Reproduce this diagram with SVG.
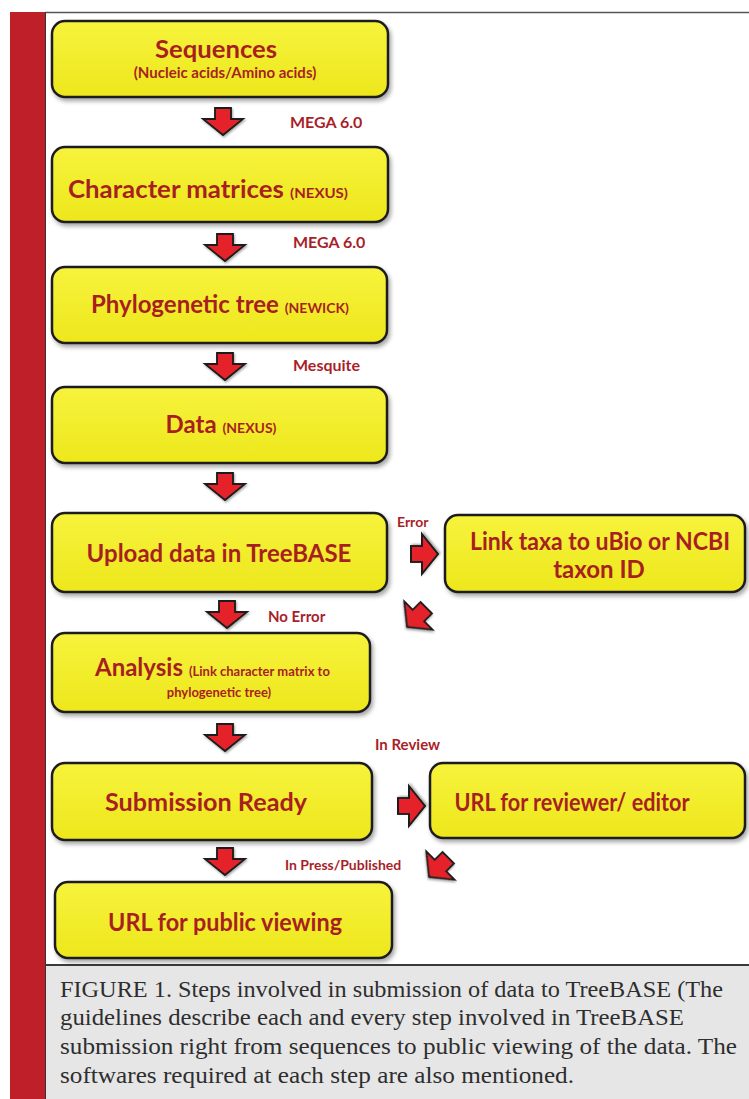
<svg xmlns="http://www.w3.org/2000/svg" width="749" height="1099" viewBox="0 0 749 1099">
<style>
.box{fill:url(#yg);stroke:#1e1e1e;stroke-width:2.5;filter:url(#sh)}
.arr{fill:#e5222b;stroke:#1a1a1a;stroke-width:1.8;stroke-linejoin:miter;filter:url(#sh2)}
.t{font-family:Lato,"Open Sans",sans-serif;font-weight:bold;fill:#a81f22;text-anchor:middle}
.big{font-size:24px}
.sm{font-size:14px}
.lab{font-family:Lato,"Open Sans",sans-serif;font-weight:bold;fill:#a81f2a}
.cap{font-family:"Liberation Serif",serif;font-size:23px;fill:#2e2e2e}
</style>
<defs>
<linearGradient id="yg" x1="0" y1="0" x2="0" y2="1">
<stop offset="0" stop-color="#f7f33c"/>
<stop offset="1" stop-color="#ede71c"/>
</linearGradient>
<filter id="sh" x="-5%" y="-10%" width="115%" height="130%">
<feDropShadow dx="2" dy="3" stdDeviation="2" flood-color="#000" flood-opacity="0.35"/>
</filter>
<filter id="sh2" x="-20%" y="-20%" width="150%" height="150%">
<feDropShadow dx="1" dy="1.5" stdDeviation="1" flood-color="#000" flood-opacity="0.35"/>
</filter>
<path id="ar" d="M-8,-13 H8 V-2 H20 L0,14 L-20,-2 H-8 Z"/>
</defs>

<rect x="0" y="0" width="749" height="1099" fill="#fff"/>
<rect x="10" y="12" width="35" height="1087" fill="#bf1f28"/>
<rect x="45" y="965" width="704" height="134" fill="#e6e6e7"/>
<line x1="45" y1="12.5" x2="749" y2="12.5" stroke="#555" stroke-width="1.5"/>
<line x1="45.5" y1="12" x2="45.5" y2="1099" stroke="#333" stroke-width="1"/>
<line x1="45" y1="965" x2="749" y2="965" stroke="#3a3a3a" stroke-width="2"/>

<g id="connectors">
<use href="#ar" class="arr" transform="translate(223,121)"/>
<use href="#ar" class="arr" transform="translate(225,247)"/>
<use href="#ar" class="arr" transform="translate(225,366)"/>
<use href="#ar" class="arr" transform="translate(225,486)"/>
<use href="#ar" class="arr" transform="translate(227,614)"/>
<use href="#ar" class="arr" transform="translate(225,737)"/>
<use href="#ar" class="arr" transform="translate(225,861)"/>
<use href="#ar" class="arr" transform="translate(424,554) rotate(-90)"/>
<use href="#ar" class="arr" transform="translate(417,617) rotate(45)"/>
<use href="#ar" class="arr" transform="translate(411,806) rotate(-90)"/>
<use href="#ar" class="arr" transform="translate(439,867) rotate(45)"/>
<text class="lab" x="290" y="128" font-size="16">MEGA 6.0</text>
<text class="lab" x="293" y="248" font-size="16">MEGA 6.0</text>
<text class="lab" x="293" y="371" font-size="16">Mesquite</text>
<text class="lab" x="397" y="527" font-size="14">Error</text>
<text class="lab" x="268" y="622" font-size="15">No Error</text>
<text class="lab" x="375" y="750" font-size="15">In Review</text>
<text class="lab" x="285" y="870" font-size="14">In Press/Published</text>
</g>

<g id="n1">
<rect class="box" x="52" y="21" width="336" height="76" rx="13"/>
<text class="t big" x="216" y="58" textLength="122" lengthAdjust="spacingAndGlyphs">Sequences</text>
<text class="t" x="225" y="78" font-size="15">(Nucleic acids/Amino acids)</text>
</g>
<g id="n2">
<rect class="box" x="52" y="147" width="336" height="75" rx="13"/>
<text class="t big" x="208" y="198" textLength="280" lengthAdjust="spacingAndGlyphs">Character matrices <tspan class="sm">(NEXUS)</tspan></text>
</g>
<g id="n3">
<rect class="box" x="52" y="267" width="335" height="76" rx="13"/>
<text class="t big" x="220" y="313">Phylogenetic tree <tspan class="sm">(NEWICK)</tspan></text>
</g>
<g id="n4">
<rect class="box" x="52" y="387" width="335" height="76" rx="13"/>
<text class="t big" x="221" y="433">Data <tspan class="sm">(NEXUS)</tspan></text>
</g>
<g id="n5">
<rect class="box" x="52" y="513" width="335" height="79" rx="13"/>
<text class="t big" x="219" y="562">Upload data in TreeBASE</text>
</g>
<g id="n6">
<rect class="box" x="52" y="633" width="318" height="79" rx="13"/>
<text class="t" x="95" y="676" style="text-anchor:start"><tspan class="big">Analysis</tspan><tspan font-size="13" dx="6">(Link character matrix to</tspan></text>
<text class="t" x="219" y="697" font-size="13">phylogenetic tree)</text>
</g>
<g id="n7">
<rect class="box" x="52" y="763" width="320" height="77" rx="13"/>
<text class="t big" x="206" y="811" textLength="202" lengthAdjust="spacingAndGlyphs">Submission Ready</text>
</g>
<g id="n8">
<rect class="box" x="55" y="882" width="337" height="76" rx="13"/>
<text class="t big" x="225" y="931" textLength="234" lengthAdjust="spacingAndGlyphs">URL for public viewing</text>
</g>
<g id="n9">
<rect class="box" x="445" y="515" width="300" height="77" rx="13"/>
<text class="t big" x="600" y="550" textLength="260" lengthAdjust="spacingAndGlyphs">Link taxa to uBio or NCBI</text>
<text class="t big" x="599" y="578">taxon ID</text>
</g>
<g id="n10">
<rect class="box" x="430" y="763" width="315" height="75" rx="13"/>
<text class="t big" x="572" y="811" textLength="235" lengthAdjust="spacingAndGlyphs">URL for reviewer/ editor</text>
</g>

<g id="caption">
<text class="cap" x="60" y="997" textLength="663" lengthAdjust="spacingAndGlyphs">FIGURE 1. Steps involved in submission of data to TreeBASE (The</text>
<text class="cap" x="60" y="1025" textLength="624" lengthAdjust="spacingAndGlyphs">guidelines describe each and every step involved in TreeBASE</text>
<text class="cap" x="60" y="1054" textLength="677" lengthAdjust="spacingAndGlyphs">submission right from sequences to public viewing of the data. The</text>
<text class="cap" x="60" y="1083" textLength="514" lengthAdjust="spacingAndGlyphs">softwares required at each step are also mentioned.</text>
</g>
</svg>
